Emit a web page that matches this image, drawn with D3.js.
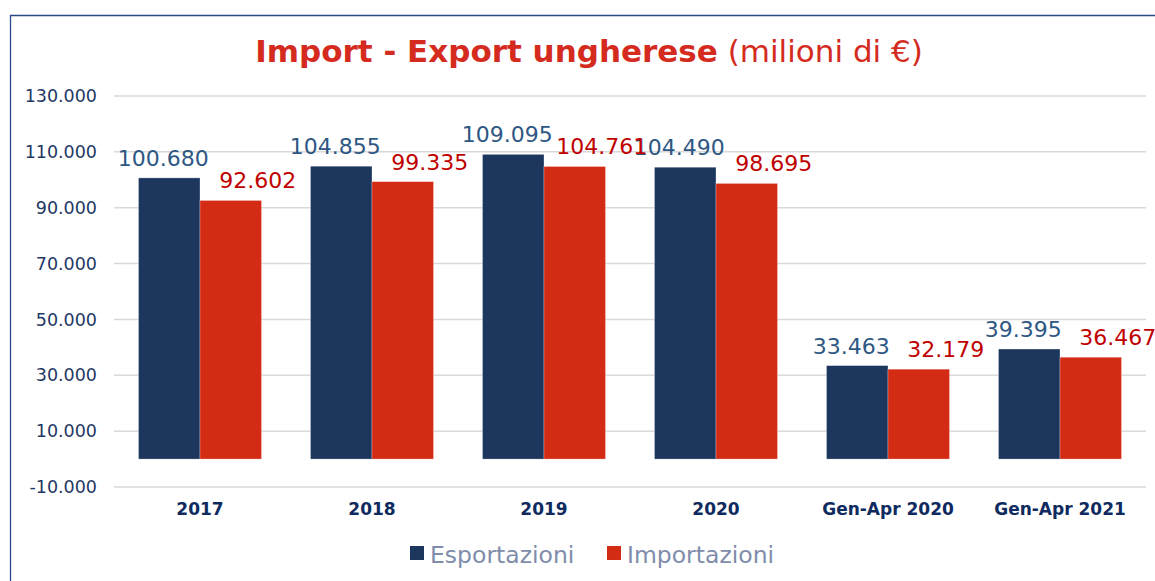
<!DOCTYPE html>
<html>
<head>
<meta charset="utf-8">
<script src="https://cdn.jsdelivr.net/npm/d3@7"></script>
<style>
  body { margin: 0; background: #fff; }
  svg { display: block; font-family: "DejaVu Sans", Verdana, sans-serif; }
</style>
</head>
<body>
<div class="chart"></div>
<script>
// data
var categories = ["2017", "2018", "2019", "2020", "Gen-Apr 2020", "Gen-Apr 2021"];
var esportazioni = [100680, 104855, 109095, 104490, 33463, 39395];
var importazioni = [92602, 99335, 104761, 98695, 32179, 36467];
var seriesNames = ["Esportazioni", "Importazioni"];
var yTicks = [-10000, 10000, 30000, 50000, 70000, 90000, 110000, 130000];

var width = 1155, height = 581;
var colors = ["#1d365d", "#d42b15"];
var labelColors = ["#2e5783", "#c00000"];

// dot as thousands separator, plain hyphen for negatives
var fmt = d3.formatLocale({decimal: ",", thousands: ".", grouping: [3], currency: ["", "€"], minus: "-"}).format(",d");

var svg = d3.select(".chart").append("svg")
    .attr("width", width)
    .attr("height", height);

// frame (only top and left show in the crop)
svg.append("path")
    .attr("d", "M10.5,581 L10.5,15.5 L1155,15.5")
    .attr("fill", "none")
    .attr("stroke", "#2a4a8c")
    .attr("stroke-width", 1.3);

// title
var title = svg.append("text")
    .attr("x", 589)
    .attr("y", 62)
    .attr("text-anchor", "middle")
    .attr("fill", "#d42b1e")
    .style("font-size", "31px");
title.append("tspan").attr("font-weight", "bold").text("Import - Export ungherese");
title.append("tspan").text(" (milioni di €)");

var x = d3.scaleBand()
    .domain(categories)
    .range([114, 1146])
    .paddingInner(0)
    .paddingOuter(0);

var y = d3.scaleLinear()
    .domain([-10000, 130000])
    .range([487, 96]);

// gridlines
svg.append("g")
    .selectAll("line")
    .data(yTicks)
    .enter().append("line")
    .attr("x1", 114)
    .attr("x2", 1146)
    .attr("y1", function(d) { return y(d); })
    .attr("y2", function(d) { return y(d); })
    .attr("stroke", "#d9d9d9")
    .attr("stroke-width", 1.5);

// y axis labels
var yAxis = svg.append("g")
    .attr("transform", "translate(114,0)")
    .call(d3.axisLeft(y).tickValues(yTicks).tickFormat(fmt).tickSize(0).tickPadding(17));
yAxis.select(".domain").remove();
yAxis.selectAll("text")
    .attr("fill", "#1f3864")
    .style("font-size", "17.5px")
    .style("font-family", "DejaVu Sans, Verdana, sans-serif");

// x axis labels
var xAxis = svg.append("g")
    .attr("transform", "translate(0,487)")
    .call(d3.axisBottom(x).tickSize(0).tickPadding(16));
xAxis.select(".domain").remove();
xAxis.selectAll("text")
    .attr("fill", "#0f2a5e")
    .attr("font-weight", "bold")
    .style("font-size", "17px")
    .style("font-family", "DejaVu Sans, Verdana, sans-serif");

// bars
var barW = 61.5;
var data = [esportazioni, importazioni];
var labelShift = [-6, 27];

data.forEach(function(vals, s) {
  var g = svg.append("g");
  g.selectAll("rect")
    .data(vals)
    .enter().append("rect")
    .attr("x", function(d, i) { return x(categories[i]) + x.bandwidth() / 2 - barW + s * barW; })
    .attr("width", barW)
    .attr("y", function(d) { return y(d); })
    .attr("height", function(d) { return y(0) - y(d); })
    .attr("fill", colors[s])
    .attr("stroke", "#ffffff")
    .attr("stroke-opacity", 0.35)
    .attr("stroke-width", 0.8);

  g.selectAll("text")
    .data(vals)
    .enter().append("text")
    .attr("x", function(d, i) { return x(categories[i]) + x.bandwidth() / 2 - barW / 2 + s * barW + labelShift[s]; })
    .attr("y", function(d) { return y(d) - 12; })
    .attr("text-anchor", "middle")
    .attr("fill", labelColors[s])
    .style("font-size", "22px")
    .text(function(d) { return fmt(d); });
});

// legend
var legendX = [410, 607];
seriesNames.forEach(function(name, s) {
  var lg = svg.append("g").attr("transform", "translate(" + legendX[s] + ",546)");
  lg.append("rect")
    .attr("width", 14)
    .attr("height", 14)
    .attr("fill", colors[s]);
  lg.append("text")
    .attr("x", 20)
    .attr("y", 17)
    .attr("fill", "#7f8cab")
    .style("font-size", "23.5px")
    .text(name);
});
</script>
</body>
</html>
